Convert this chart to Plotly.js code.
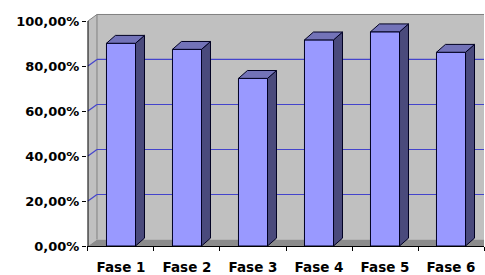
<!DOCTYPE html>
<html>
<head>
<meta charset="utf-8">
<script src="https://cdn.plot.ly/plotly-3.0.1.min.js"></script>
<style>html,body{margin:0;padding:0;background:#fff;}#chart{width:485px;height:275px;}</style>
</head>
<body>
<div id="chart"></div>
<script>
var categories = ["Fase 1", "Fase 2", "Fase 3", "Fase 4", "Fase 5", "Fase 6"];
var values = [90.1, 87.4, 74.5, 91.6, 95.2, 86.1];
var yTickVals = [0, 20, 40, 60, 80, 100];
var yTickText = ["0,00%", "20,00%", "40,00%", "60,00%", "80,00%", "100,00%"];

(function () {
  var barWidth = 0.44;
  var wallDx = 0.136, wallDy = 2.9;
  var barDx = 0.136, barDy = 3.5;
  var xMin = -0.5, xMax = 5.5;
  var yTop = yTickVals[yTickVals.length - 1];

  var shapes = [];
  function poly(pts, fill, lineColor, lineWidth, layer) {
    var d = pts.map(function (p, i) { return (i ? 'L' : 'M') + p[0] + ',' + p[1]; }).join(' ') + ' Z';
    shapes.push({type: 'path', path: d, xref: 'x', yref: 'y', fillcolor: fill,
      line: {color: lineColor, width: lineWidth}, layer: layer || 'below'});
  }
  function seg(x0, y0, x1, y1, color, width, layer) {
    shapes.push({type: 'line', xref: 'x', yref: 'y', x0: x0, y0: y0, x1: x1, y1: y1,
      line: {color: color, width: width}, layer: layer || 'below'});
  }
  // back wall
  poly([[xMin + wallDx, wallDy], [xMin + wallDx, yTop + wallDy], [xMax + 1, yTop + wallDy], [xMax + 1, wallDy]], '#c0c0c0', 'rgba(0,0,0,0)', 0);
  // left wall
  poly([[xMin, 0], [xMin, yTop], [xMin + wallDx, yTop + wallDy], [xMin + wallDx, wallDy]], '#c0c0c0', 'rgba(0,0,0,0)', 0);
  // floor
  poly([[xMin, 0], [xMin + wallDx, wallDy], [xMax + 1, wallDy], [xMax + 1, 0]], '#8c8c8c', 'rgba(0,0,0,0)', 0);
  // wall edges
  seg(xMin + wallDx, wallDy, xMin + wallDx, yTop + wallDy, '#808080', 1);
  seg(xMin, yTop, xMin + wallDx, yTop + wallDy, '#808080', 1);
  seg(xMin + wallDx, yTop + wallDy, xMax + 1, yTop + wallDy, '#808080', 1);
  // gridlines
  yTickVals.forEach(function (v) {
    if (v === 0 || v === yTop) return;
    seg(xMin, v, xMin + wallDx, v + wallDy, '#4444cc', 1.2);
    seg(xMin + wallDx, v + wallDy, xMax + 1, v + wallDy, '#4444cc', 1.2);
  });
  // bar side and top faces
  values.forEach(function (v, i) {
    var x0 = i - barWidth / 2, x1 = i + barWidth / 2;
    poly([[x1, 0], [x1, v], [x1 + barDx, v + barDy], [x1 + barDx, barDy]], '#4a4a7c', '#000022', 1, 'above');
    poly([[x0, v], [x0 + barDx, v + barDy], [x1 + barDx, v + barDy], [x1, v]], '#7373b8', '#000022', 1, 'above');
  });
  // y axis line up to 100%
  seg(xMin, 0, xMin, yTop, '#000000', 1, 'above');

  var data = [{
    type: 'bar',
    x: categories.map(function (c, i) { return i; }),
    y: values,
    width: barWidth,
    marker: {color: '#9999ff', line: {color: '#000022', width: 1}},
    hoverinfo: 'skip'
  }, {
    type: 'scatter', x: [0], y: [0], xaxis: 'x2', yaxis: 'y', mode: 'markers',
    marker: {opacity: 0}, hoverinfo: 'skip', showlegend: false
  }];

  var layout = {
    width: 485, height: 275,
    margin: {l: 87, r: 1, t: 12, b: 29},
    paper_bgcolor: '#ffffff', plot_bgcolor: '#ffffff',
    showlegend: false,
    font: {family: 'DejaVu Sans', size: 13, color: '#000000'},
    xaxis: {
      range: [-0.515, 5.5],
      tickmode: 'array', tickvals: [0, 1, 2, 3, 4, 5], ticktext: categories,
      ticks: '', showgrid: false, zeroline: false, ticklabelstandoff: 9,
      showline: true, linecolor: '#000000', linewidth: 1,
      tickfont: {family: 'DejaVu Sans', size: 13.5, weight: 'bold', color: '#000000'}
    },
    xaxis2: {
      overlaying: 'x', anchor: 'y', side: 'bottom',
      range: [-0.515, 5.5],
      tickmode: 'array', tickvals: [-0.5, 0.5, 1.5, 2.5, 3.5, 4.5, 5.5], ticktext: ['', '', '', '', '', '', ''],
      ticks: 'outside', ticklen: 4, tickcolor: '#000000', showgrid: false, zeroline: false, showline: false
    },
    yaxis: {
      range: [0, 104],
      tickmode: 'array', tickvals: yTickVals, ticktext: yTickText,
      ticks: 'outside', ticklen: 4, tickcolor: '#000000',
      showgrid: false, zeroline: false, showline: false,
      tickfont: {family: 'DejaVu Sans', size: 13, weight: 'bold', color: '#000000'}
    },
    shapes: shapes
  };

  Plotly.newPlot('chart', data, layout, {staticPlot: true, displayModeBar: false});
})();
</script>
</body>
</html>
